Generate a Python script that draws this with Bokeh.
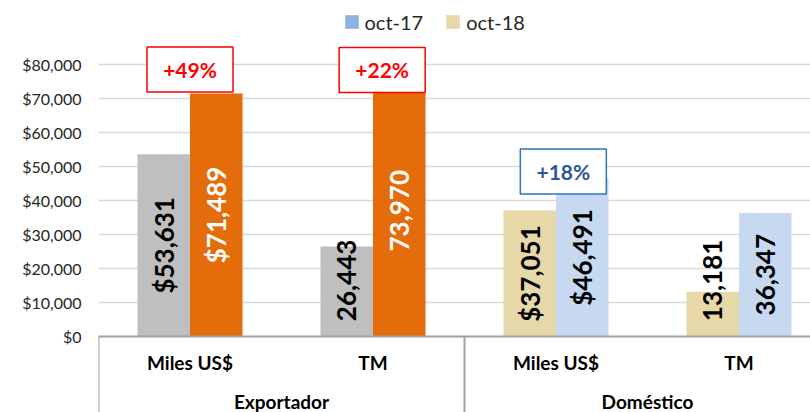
from math import pi
from bokeh.plotting import figure
from bokeh.models import (Range1d, FixedTicker, NumeralTickFormatter, Legend,
                          LegendItem, ColumnDataSource)
from bokeh.core.properties import value
from bokeh.embed import file_html
from bokeh.resources import INLINE

# ---------------- data ----------------
groups = ["Exportador", "Doméstico"]
units = ["Miles US$", "TM", "Miles US$", "TM"]
unit_group = [0, 0, 1, 1]
oct17 = [53631, 26443, 37051, 13181]
oct18 = [71489, 73970, 46491, 36347]
series_names = ["oct-17", "oct-18"]
y_ticks = [0, 10000, 20000, 30000, 40000, 50000, 60000, 70000, 80000]
changes = ["+49%", "+22%", "+18%"]
change_unit = [0, 1, 2]

# ---------------- style ----------------
col17 = ["#bfbfbf", "#bfbfbf", "#e6d8a8", "#e6d8a8"]
col18 = ["#e46c0a", "#e46c0a", "#c6d9f0", "#c6d9f0"]
lab17 = ["#000000", "#000000", "#000000", "#000000"]
lab18 = ["#ffffff", "#ffffff", "#000000", "#000000"]
legend_cols = ["#8db3e2", "#e6d8a8"]
chg_line = ["#ff0000", "#ff0000", "#2e75b6"]
chg_text = ["#ff0000", "#ff0000", "#2f5597"]
chg_dx = [0.0, 0.05, 0.04]          # box offset from unit centre (unit widths)
chg_y = [78500, 78400, 48500]       # box centre height (value units)
FONT = "Lato"
BW = 0.287
LEFT = 98
UNIT_PX = 183.0
PX_PER_K = 3.4

W, H = 810, 412
n = len(units)
p = figure(width=W, height=H, output_backend="svg", toolbar_location=None,
           x_range=Range1d(0, (W - LEFT) / UNIT_PX),
           y_range=Range1d(-(H - 336) / PX_PER_K * 1000, 336 / PX_PER_K * 1000),
           x_axis_location=None, min_border_left=LEFT, min_border_right=0,
           min_border_top=0, min_border_bottom=0)
p.outline_line_color = None
p.xgrid.visible = False
p.ygrid.ticker = FixedTicker(ticks=y_ticks[1:])
p.ygrid.grid_line_color = "#d9d9d9"
p.ygrid.grid_line_width = 1.5

ax = p.yaxis[0]
ax.ticker = FixedTicker(ticks=y_ticks)
ax.formatter = NumeralTickFormatter(format="$0,0")
ax.axis_line_color = None
ax.major_tick_line_color = None
ax.minor_tick_line_color = None
ax.major_tick_out = 0
ax.major_label_standoff = 17
ax.major_label_text_font = FONT
ax.major_label_text_font_size = "16px"
ax.major_label_text_color = "#262626"

xc = [i + 0.5 for i in range(n)]
src = ColumnDataSource(dict(
    x17=[x - BW / 2 for x in xc], x18=[x + BW / 2 for x in xc],
    v17=oct17, v18=oct18, c17=col17, c18=col18,
    l17=[("$" if u == "Miles US$" else "") + f"{v:,}" for v, u in zip(oct17, units)],
    l18=[("$" if u == "Miles US$" else "") + f"{v:,}" for v, u in zip(oct18, units)],
    y17=[max(v / 2, 16500) for v in oct17], y18=[max(v / 2, 16500) for v in oct18],
    t17=lab17, t18=lab18))

p.vbar(x="x17", top="v17", width=BW, fill_color="c17", line_color=None, source=src)
p.vbar(x="x18", top="v18", width=BW, fill_color="c18", line_color=None, source=src)

# axis base line and group separators
x_end = n + 0.2
p.segment(x0=[0], y0=[0], x1=[x_end], y1=[0], line_color="#a0a0a0", line_width=2)
sep_x = [0, 2, 4]
p.segment(x0=sep_x, y0=[0] * 3, x1=sep_x, y1=[-30000] * 3, line_color="#a0a0a0", line_width=2)

# change boxes
bsrc = ColumnDataSource(dict(
    x=[change_unit[i] + 0.5 + chg_dx[i] for i in range(len(changes))],
    y=chg_y, t=changes, lc=chg_line, tc=chg_text))
p.rect(x="x", y="y", width=86, height=45, width_units="screen", height_units="screen",
       fill_color="white", line_color="lc", line_width=1.5, source=bsrc)
p.text(x="x", y="y", text="t", text_color="tc", text_font=value(FONT),
       text_font_style="bold", text_font_size="21px", text_align="center",
       text_baseline="middle", source=bsrc)

# data labels
for k in ("17", "18"):
    p.text(x="x" + k, y="y" + k, text="l" + k, text_color="t" + k, angle=pi / 2,
           text_font=value(FONT), text_font_style="bold", text_font_size="26px",
           text_align="center", text_baseline="middle", source=src)

# category labels
p.text(x=xc, y=[-7650] * n, text=units, text_font=value(FONT), text_font_style="bold",
       text_font_size="19px", text_align="center", text_baseline="middle",
       text_color="#000000")
gx = [sum(xc[i] for i in range(n) if unit_group[i] == g) / unit_group.count(g)
      for g in range(len(groups))]
p.text(x=gx, y=[-15600] * len(groups), text=groups, text_font=value(FONT),
       text_font_style="bold", text_font_size="19px", text_align="center",
       text_baseline="top", text_color="#000000")

# legend (swatches only, no visible marks)
nan = float("nan")
dummies = [p.vbar(x=[nan], top=[nan], width=0.1, fill_color=c, line_color=None)
           for c in legend_cols]
leg = Legend(items=[LegendItem(label=s, renderers=[r]) for s, r in zip(series_names, dummies)],
             orientation="horizontal", location=(244.5, 378.5), padding=0, margin=0,
             spacing=21, glyph_width=17, glyph_height=17, label_standoff=5,
             label_text_font=FONT, label_text_font_size="20px", label_text_color="#262626",
             border_line_color=None, background_fill_alpha=0)
p.add_layout(leg)

open("out.html", "w").write(file_html(p, INLINE))
